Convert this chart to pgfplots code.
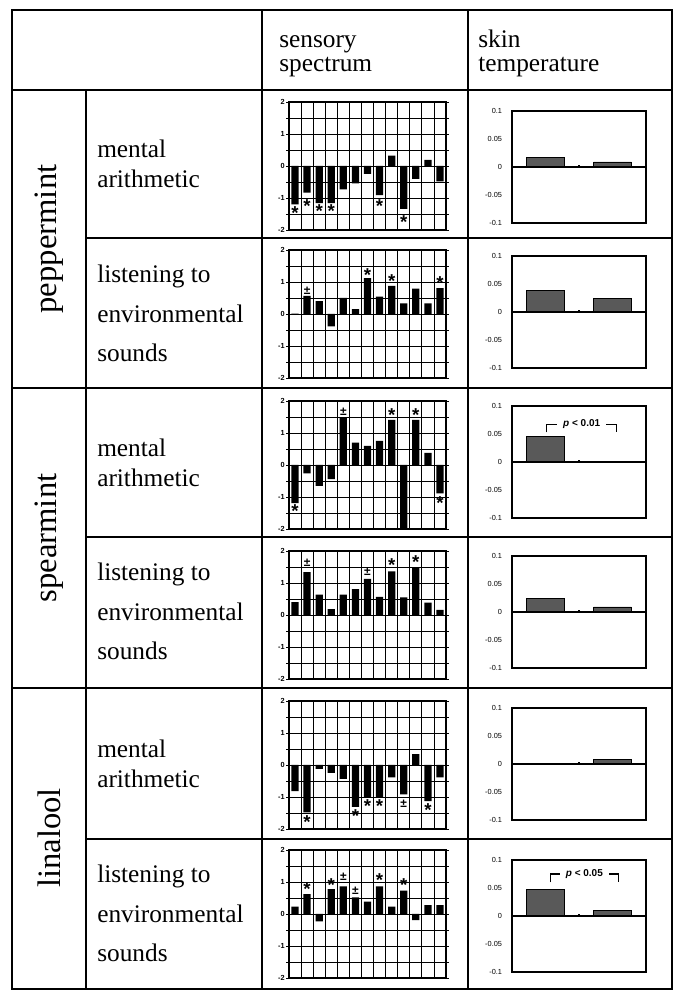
\documentclass[border=0pt]{standalone}
\usepackage{fontspec}
\setmainfont{Liberation Serif}
\setsansfont{Liberation Sans}
\usepackage{pgfplots}
\pgfplotsset{compat=1.18}

\newcommand\tlab{\fontsize{5.5}{6}\selectfont\sffamily}
\newcommand\lab{\fontsize{9}{9}\selectfont\sffamily\bfseries}
\newcommand\st{{\fontsize{14}{14}\selectfont\smash{\raisebox{-0.45em}{*}}}}

\pgfplotsset{
  spec/.style={scale only axis, width=117.75pt, height=96pt, anchor=south west,
    xmin=0.5, xmax=13.5, ymin=-2, ymax=2,
    xtick={0.5,1.5,...,13.5}, xticklabels={}, xmajorgrids,
    ytick={-2,-1,0,1,2}, yticklabels={-2,-1,0,1,2},
    minor ytick={-1.5,-0.5,0.5,1.5}, ymajorgrids, yminorgrids,
    major grid style={black, line width=0.6pt},
    minor grid style={black, line width=0.6pt},
    axis line style={line width=0.8pt},
    tick align=outside, major tick length=2pt, minor tick length=2pt,
    xtick style={draw=none}, ytick style={black, line width=0.6pt},
    ticklabel style={font=\tlab\bfseries},
    yticklabel style={inner sep=1pt},
    clip=false},
  skin/.style={scale only axis, width=100.5pt, height=84pt, anchor=south west,
    xmin=0, xmax=2, ymin=-0.1, ymax=0.1, xtick=\empty,
    ytick={-0.1,-0.05,0,0.05,0.1}, yticklabels={-0.1,-0.05,0,0.05,0.1},
    ytick style={draw=none}, axis line style={line width=0.8pt},
    ticklabel style={font=\tlab},
    yticklabel style={xshift=-4pt}, clip=false},
  bars/.style={ybar, bar width=0.6, fill=black, draw=none},
  notes/.style={draw=none,
    nodes near coords, point meta=explicit symbolic,
    every node near coord/.append style={anchor=center, inner sep=0pt, font=\lab}},
  sbars/.style={ybar, bar width=0.56, fill=black!65, draw=black, line width=0.6pt},
  zero/.style={black, line width=0.8pt},
}

\begin{document}
\begin{tikzpicture}
\begin{scope}[x=0.75pt, y=0.75pt]
\useasboundingbox (0,0) rectangle (684,1000);

% table frame
\draw[line width=0.8pt] (12,990) rectangle (672,11);
\draw[line width=0.8pt] (12,910) -- (672,910);
\draw[line width=0.8pt] (12,612) -- (672,612);
\draw[line width=0.8pt] (12,312) -- (672,312);
\draw[line width=0.8pt] (86,762) -- (672,762);
\draw[line width=0.8pt] (86,463) -- (672,463);
\draw[line width=0.8pt] (86,161) -- (672,161);
\draw[line width=0.8pt] (86,910) -- (86,11);
\draw[line width=0.8pt] (262,990) -- (262,11);
\draw[line width=0.8pt] (468,990) -- (468,11);

% header
\begin{scope}[every node/.style={anchor=base west, inner sep=0pt, font=\fontsize{19}{23}\selectfont}]
\node at (279,952) {sensory};
\node at (279,928) {spectrum};
\node at (478,952) {skin};
\node at (478,928) {temperature};
% tasks
\node at (97,842) {mental};
\node at (97,812) {arithmetic};
\node at (97,717) {listening to};
\node at (97,677) {environmental};
\node at (97,638) {sounds};
\node at (97,543) {mental};
\node at (97,513) {arithmetic};
\node at (97,419) {listening to};
\node at (97,379) {environmental};
\node at (97,340) {sounds};
\node at (97,242) {mental};
\node at (97,212) {arithmetic};
\node at (97,117) {listening to};
\node at (97,77) {environmental};
\node at (97,38) {sounds};
\end{scope}

% aromas
\begin{scope}[every node/.style={rotate=90, inner sep=0pt, font=\fontsize{24.5}{26}\selectfont}]
\node at (49,761) {peppermint};
\node at (49,462) {spearmint};
\node at (49,162) {linalool};
\end{scope}
\end{scope}

% ---- sensory spectrum ----
% peppermint, mental arithmetic
\begin{axis}[spec, at={(216.75pt,577.5pt)}]
\addplot[bars] coordinates {(1,-1.20) (2,-0.83) (3,-1.16) (4,-1.16) (5,-0.73) (6,-0.54) (7,-0.25) (8,-0.91) (9,0.32) (10,-1.34) (11,-0.40) (12,0.19) (13,-0.48)};
\addplot[notes] coordinates {(1,-1.40)[\st] (2,-1.18)[\st] (3,-1.34)[\st] (4,-1.34)[\st] (8,-1.18)[\st] (10,-1.70)[\st]};
\end{axis}
% peppermint, listening
\begin{axis}[spec, at={(216.75pt,466.5pt)}]
\addplot[bars] coordinates {(1,0.01) (2,0.57) (3,0.40) (4,-0.39) (5,0.50) (6,0.15) (7,1.12) (8,0.54) (9,0.88) (10,0.33) (11,0.79) (12,0.33) (13,0.81)};
\addplot[notes] coordinates {(2,0.74)[±] (7,1.28)[\st] (9,1.08)[\st] (13,1.02)[\st]};
\end{axis}
% spearmint, mental arithmetic
\begin{axis}[spec, at={(216.75pt,353.25pt)}]
\addplot[bars] coordinates {(1,-1.19) (2,-0.26) (3,-0.65) (4,-0.44) (5,1.47) (6,0.70) (7,0.60) (8,0.75) (9,1.41) (10,-2.0) (11,1.41) (12,0.38) (13,-0.89)};
\addplot[notes] coordinates {(1,-1.39)[\st] (5,1.66)[±] (9,1.62)[\st] (11,1.62)[\st] (13,-1.13)[\st]};
\end{axis}
% spearmint, listening
\begin{axis}[spec, at={(216.75pt,240.75pt)}]
\addplot[bars] coordinates {(1,0.40) (2,1.34) (3,0.64) (4,0.18) (5,0.64) (6,0.81) (7,1.13) (8,0.57) (9,1.36) (10,0.55) (11,1.49) (12,0.39) (13,0.16)};
\addplot[notes] coordinates {(2,1.64)[±] (7,1.36)[±] (9,1.62)[\st] (11,1.72)[\st]};
\end{axis}
% linalool, mental arithmetic
\begin{axis}[spec, at={(216.75pt,128.25pt)}]
\addplot[bars] coordinates {(1,-0.82) (2,-1.48) (3,-0.12) (4,-0.25) (5,-0.43) (6,-1.31) (7,-1.03) (8,-1.03) (9,-0.39) (10,-0.92) (11,0.34) (12,-1.13) (13,-0.39)};
\addplot[notes] coordinates {(2,-1.72)[\st] (6,-1.52)[\st] (7,-1.23)[\st] (8,-1.23)[\st] (10,-1.21)[±] (12,-1.35)[\st]};
\end{axis}
% linalool, listening
\begin{axis}[spec, at={(216.75pt,16.5pt)}]
\addplot[bars] coordinates {(1,0.23) (2,0.62) (3,-0.23) (4,0.78) (5,0.86) (6,0.52) (7,0.39) (8,0.86) (9,0.23) (10,0.73) (11,-0.19) (12,0.28) (13,0.28)};
\addplot[notes] coordinates {(2,0.85)[\st] (4,0.98)[\st] (5,1.16)[±] (6,0.73)[±] (8,1.12)[\st] (10,0.95)[\st]};
\end{axis}

% ---- skin temperature ----
\begin{axis}[skin, at={(384pt,582.75pt)}]
\addplot[sbars] coordinates {(0.5,0.0165) (1.5,0.009)};
\addplot[zero] coordinates {(0,0) (2,0)};
\addplot[zero] coordinates {(1,0) (1,0.004)};
\end{axis}
\begin{axis}[skin, at={(384pt,474pt)}]
\addplot[sbars] coordinates {(0.5,0.039) (1.5,0.024)};
\addplot[zero] coordinates {(0,0) (2,0)};
\addplot[zero] coordinates {(1,0) (1,0.004)};
\end{axis}
\begin{axis}[skin, at={(384pt,361.5pt)}]
\addplot[sbars] coordinates {(0.5,0.046) (1.5,0.0)};
\addplot[zero] coordinates {(0,0) (2,0)};
\addplot[zero] coordinates {(1,0) (1,0.004)};
\addplot[zero] coordinates {(0.52,0.053) (0.52,0.067) (0.67,0.067)};
\addplot[zero] coordinates {(1.41,0.067) (1.56,0.067) (1.56,0.053)};
\node[font=\fontsize{7.5}{8}\selectfont\sffamily\bfseries] at (axis cs:1.04,0.067) {\textit{p} < 0.01};
\end{axis}
\begin{axis}[skin, at={(384pt,249pt)}]
\addplot[sbars] coordinates {(0.5,0.024) (1.5,0.009)};
\addplot[zero] coordinates {(0,0) (2,0)};
\addplot[zero] coordinates {(1,0) (1,0.004)};
\end{axis}
\begin{axis}[skin, at={(384pt,135pt)}]
\addplot[sbars] coordinates {(0.5,-0.001) (1.5,0.0075)};
\addplot[zero] coordinates {(0,0) (2,0)};
\addplot[zero] coordinates {(1,0) (1,0.004)};
\end{axis}
\begin{axis}[skin, at={(384pt,21pt)}]
\addplot[sbars] coordinates {(0.5,0.0475) (1.5,0.0105)};
\addplot[zero] coordinates {(0,0) (2,0)};
\addplot[zero] coordinates {(1,0) (1,0.004)};
\addplot[zero] coordinates {(0.57,0.060) (0.57,0.075) (0.71,0.075)};
\addplot[zero] coordinates {(1.45,0.075) (1.59,0.075) (1.59,0.060)};
\node[font=\fontsize{7.5}{8}\selectfont\sffamily\bfseries] at (axis cs:1.08,0.075) {\textit{p} < 0.05};
\end{axis}
\end{tikzpicture}
\end{document}
